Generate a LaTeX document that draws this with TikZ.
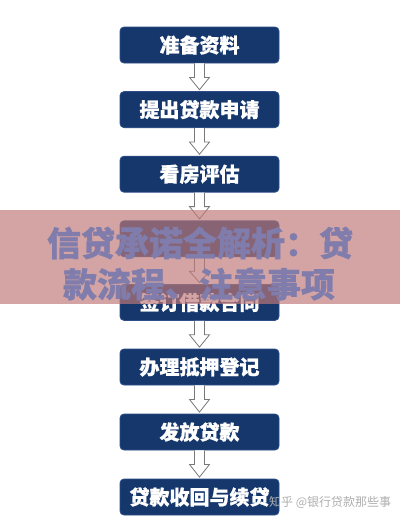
\documentclass[tikz,border=0pt]{standalone}
\usepackage{fontspec}
\newfontfamily\cjk{Noto Sans CJK SC}
\newfontfamily\cjkh{Noto Sans CJK SC}[BoldFeatures={FakeBold=0.8}]
\usetikzlibrary{calc}
\definecolor{boxblue}{RGB}{22,55,108}
\definecolor{boxedge}{RGB}{45,78,135}
\definecolor{arrgray}{RGB}{120,120,120}
\definecolor{bandpink}{RGB}{191,121,120}
\definecolor{wmpurple}{RGB}{128,124,172}
\definecolor{credgray}{RGB}{175,175,175}
\tikzset{
  stepbox/.style={draw=boxedge, line width=0.8pt, fill=boxblue, rounded corners=4pt,
    minimum width=159pt, minimum height=36pt, inner sep=0pt,
    font=\cjkh\bfseries\fontsize{20}{20}\selectfont, text=white},
  hollow/.style={draw=arrgray, line width=0.8pt, fill=white, line join=miter},
  wmtext/.style={font=\cjkh\bfseries\fontsize{34}{34}\selectfont, text=wmpurple, inner sep=0pt},
  credit/.style={font=\cjk\fontsize{12}{12}\selectfont, text=credgray, inner sep=0pt, anchor=west}
}
\newcommand{\hollowarrow}[2]{%
  \draw[hollow] ([xshift=-5pt]#1.south) -- ([xshift=-5pt,yshift=-14pt]#1.south)
    -- ([xshift=-10pt,yshift=-14pt]#1.south) -- ([yshift=1.5pt]#2.north)
    -- ([xshift=10pt,yshift=-14pt]#1.south) -- ([xshift=5pt,yshift=-14pt]#1.south)
    -- ([xshift=5pt]#1.south);}
\begin{document}
\begin{tikzpicture}[x=1pt,y=-1pt]
\useasboundingbox (0,0) rectangle (400,525);
\fill[white] (0,0) rectangle (400,525);
\node[stepbox] (b1) at (199.5,45.0) {准备资料};
\node[stepbox] (b2) at (199.5,109.6) {提出贷款申请};
\node[stepbox] (b3) at (199.5,174.2) {看房评估};
\node[stepbox] (b4) at (199.5,238.8) {};
\node[stepbox] (b5) at (199.5,302.4) {签订借款合同};
\node[stepbox] (b6) at (199.5,367.0) {办理抵押登记};
\node[stepbox] (b7) at (199.5,432.0) {发放贷款};
\node[stepbox] (b8) at (199.5,497.0) {贷款收回与续贷};
\hollowarrow{b1}{b2}
\hollowarrow{b2}{b3}
\hollowarrow{b3}{b4}
\hollowarrow{b4}{b5}
\hollowarrow{b5}{b6}
\hollowarrow{b6}{b7}
\hollowarrow{b7}{b8}
\fill[bandpink, opacity=0.68] (0,210) rectangle (400,304);
\node[wmtext] (w1) at (200,243) {信贷承诺全解析：贷};
\node[wmtext] (w2) at (199,284) {款流程、注意事项};
\node[credit] (cr) at (269,502) {知乎 @银行贷款那些事};
\end{tikzpicture}
\end{document}
